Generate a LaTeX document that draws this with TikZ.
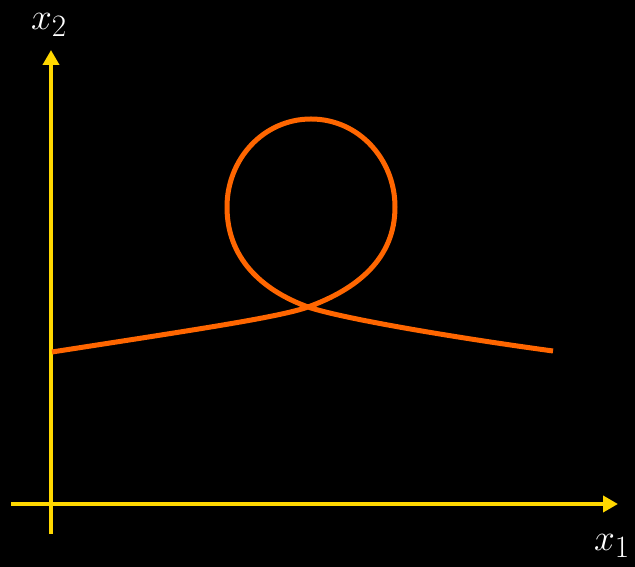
\documentclass[tikz,border=0pt]{standalone}
\usepackage{amsmath,amssymb}
\usepackage{graphicx}
\usepackage{tikz}
\usetikzlibrary{arrows.meta, calc}
\definecolor{axisgold}{RGB}{255,215,0}
\definecolor{loopred}{RGB}{255,102,0}
\newcommand{\biglabel}[1]{\scalebox{1.5}{\Huge$#1$}}

\begin{document}
\begin{tikzpicture}[
    x=1pt, y=1pt,
    axis/.style={line width=4pt, axisgold, -{Triangle[length=15pt, width=16pt]}},
    trajectory/.style={line width=5pt, loopred, line cap=butt},
    label/.style={text=white, inner sep=0pt},
]
    \fill[black] (0,0) rectangle (635,567);
    \useasboundingbox (0,0) rectangle (635,567);

    \coordinate (ybot)  at (51,33);
    \coordinate (ytop)  at (51,517);
    \coordinate (xleft) at (11,63);
    \coordinate (xright) at (618,63);

    \draw[axis] (ybot) -- (ytop);
    \draw[axis] (xleft) -- (xright);

    % Trajectory with loop
    \coordinate (start) at (52,215);
    \coordinate (cross) at (308,260);
    \coordinate (right) at (395,360);
    \coordinate (top)   at (311,448);
    \coordinate (left)  at (227,360);
    \coordinate (stop)  at (553,216);
    \draw[trajectory] (start) .. controls (200,238) and (280,250) .. (cross)
        to[out=20, in=270] (right) to[out=90, in=0] (top)
        to[out=180, in=90] (left) to[out=270, in=160] (cross)
        .. controls (340,249) and (450,230) .. (stop);

    % Labels
    \node[label] (x2) at (49,542) {\biglabel{x_2}};
    \node[label] (x1) at (612,21) {\biglabel{x_1}};
\end{tikzpicture}
\end{document}
